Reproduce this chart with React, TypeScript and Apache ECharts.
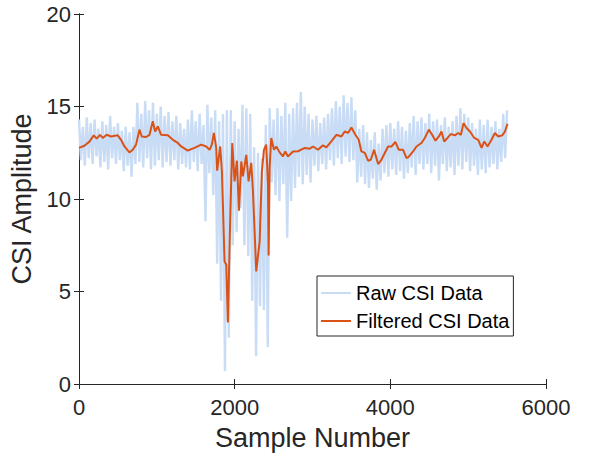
import React, { useEffect, useRef } from "react";
import * as echarts from "echarts";

// Raw CSI data, read as alternating peaks (at 0, 50, 100 ... 5500) and dips (at 25, 75 ... 5475)
const rawPeaks = [
  14.3, 13.9, 14.4, 14.1, 14.3, 13.8, 14.2, 14.0, 14.5, 13.9,
  14.1, 13.7, 13.9, 13.6, 13.9, 15.2, 14.6, 15.3, 14.8, 15.2,
  14.6, 15.0, 14.5, 14.7, 14.2, 14.5, 14.1, 13.8, 14.3, 14.8,
  14.2, 14.6, 14.0, 15.1, 14.4, 14.8, 14.2, 14.6, 14.8, 14.8,
  14.2, 13.8, 15.1, 14.9, 14.6, 12.8, 12.5, 12.2, 14.0, 14.9,
  14.3, 14.9, 14.5, 15.2, 14.6, 14.9, 15.2, 15.8, 15.0, 14.6,
  14.3, 14.5, 14.1, 14.4, 14.6, 14.9, 15.3, 15.0, 15.6, 15.2,
  15.5, 14.8, 13.8, 14.0, 13.6, 13.2, 13.6, 13.0, 13.8, 14.0,
  14.1, 13.8, 14.2, 13.9, 13.7, 14.1, 14.5, 14.2, 14.4, 14.1,
  14.6, 14.2, 14.3, 14.0, 14.4, 13.9, 14.2, 14.5, 14.9, 14.6,
  14.4, 14.1, 13.8, 14.3, 14.0, 14.3, 13.9, 14.2, 13.8, 14.6, 14.8,
];
const rawDips = [
  12.1, 11.8, 12.2, 11.9, 12.3, 11.7, 12.0, 11.6, 12.2, 11.9,
  12.1, 11.5, 11.8, 11.2, 11.9, 12.0, 11.7, 12.2, 11.6, 11.8,
  12.1, 11.7, 12.0, 11.8, 12.1, 11.6, 11.9, 11.7, 11.6, 12.0,
  11.5, 11.9, 8.8, 11.4, 10.2, 6.5, 4.5, 0.7, 2.5, 7.5,
  8.2, 9.5, 7.5, 6.9, 4.5, 1.5, 4.2, 4.0, 2.0, 10.9,
  10.2, 9.9, 10.8, 7.9, 9.9, 10.6, 11.2, 10.8, 11.3, 10.9,
  11.8, 11.5, 11.9, 11.6, 12.1, 11.8, 12.2, 11.9, 12.3, 12.0,
  12.1, 10.9, 11.2, 10.8, 10.6, 11.1, 10.5, 11.0, 11.4, 11.2,
  11.6, 11.3, 11.5, 11.1, 11.4, 11.7, 11.3, 11.9, 11.6, 11.9,
  11.4, 11.8, 11.0, 11.9, 11.5, 11.7, 11.3, 11.8, 11.6, 12.0,
  11.5, 11.8, 11.3, 11.6, 11.4, 11.7, 11.9, 11.6, 12.0, 12.2,
];
const rawStep = 50;
const rawDipOffset = 25;

// Filtered CSI data
const filteredX = [
  0, 69, 134, 189, 228, 270, 305, 356, 412, 498, 540, 584, 648, 691, 733, 777, 806, 862, 906, 948,
  978, 1013, 1055, 1141, 1206, 1270, 1313, 1398, 1484, 1570, 1634, 1678, 1707, 1733, 1763, 1775, 1814, 1836, 1870, 1892,
  1913, 1943, 1969, 1999, 2029, 2055, 2085, 2106, 2149, 2179, 2213, 2235, 2277, 2321, 2350, 2376, 2406, 2428, 2436, 2449,
  2470, 2505, 2535, 2578, 2621, 2650, 2685, 2749, 2814, 2900, 2964, 3007, 3071, 3135, 3178, 3242, 3307, 3371, 3414, 3457,
  3500, 3551, 3594, 3628, 3672, 3714, 3749, 3791, 3843, 3885, 3929, 3971, 4014, 4065, 4109, 4164, 4207, 4229, 4293, 4336,
  4400, 4443, 4495, 4537, 4580, 4624, 4657, 4692, 4734, 4778, 4830, 4872, 4907, 4940, 4979, 5023, 5078, 5129, 5172, 5207,
  5249, 5300, 5344, 5386, 5438, 5473, 5506,
];
const filteredY = [
  12.76, 12.88, 13.1, 13.44, 13.26, 13.47, 13.3, 13.47, 13.38, 13.44, 13.2, 12.84, 12.52, 12.66, 12.94, 13.75, 13.38, 13.35, 13.47, 14.2,
  13.65, 13.92, 13.47, 13.44, 13.2, 13.03, 12.84, 12.62, 12.76, 12.94, 12.84, 12.66, 12.94, 13.57, 12.76, 11.53, 12.84, 11.49, 6.63, 6.45,
  3.33, 8.97, 13.03, 10.95, 12.07, 9.37, 12.03, 11.22, 12.39, 10.95, 11.95, 10.41, 6.09, 7.71, 11.49, 12.66, 12.94, 10.77, 6.95, 11.68,
  13.3, 12.66, 12.84, 12.52, 12.3, 12.57, 12.3, 12.57, 12.58, 12.76, 12.72, 12.84, 12.66, 12.9, 12.79, 13.11, 13.47, 13.38, 13.65, 13.57,
  13.87, 13.47, 13.2, 12.57, 12.49, 12.07, 12.12, 12.66, 11.89, 12.12, 12.49, 12.84, 12.84, 13.08, 12.66, 12.66, 12.22, 12.25, 12.57, 12.84,
  13.03, 13.3, 13.75, 13.47, 13.15, 13.38, 13.65, 13.11, 13.3, 13.51, 13.44, 13.57, 13.47, 14.1, 13.84, 13.65, 13.3, 13.2, 12.76, 13.11,
  12.84, 13.2, 13.57, 13.38, 13.44, 13.65, 14.07,
];

const xTicks = { min: 0, max: 6000, interval: 2000 };
const yTicks = { min: 0, max: 20, interval: 5 };

const seriesNames = ["Raw CSI Data", "Filtered CSI Data"];
const axisTitles = { x: "Sample Number", y: "CSI Amplitude" };

const FONT = "'Liberation Sans', Arial, Helvetica, sans-serif";
const AXIS_COLOR = "#262626";
const RAW_COLOR = "#c9dcf5";
const FILTERED_COLOR = "#D95319";

export default function App() {
  const ref = useRef<HTMLDivElement>(null);

  useEffect(() => {
    if (!ref.current) return;
    const chart = echarts.init(ref.current, undefined, { renderer: "svg" });

    const rawData: number[][] = [];
    for (let i = 0; i < rawPeaks.length; i++) {
      rawData.push([i * rawStep, rawPeaks[i]]);
      if (i < rawDips.length) rawData.push([i * rawStep + rawDipOffset, rawDips[i]]);
    }
    const filteredData = filteredX.map((x, i) => [x, filteredY[i]]);

    const axisLine = { show: true, lineStyle: { color: AXIS_COLOR, width: 1 } };
    const axisTick = { show: true, inside: true, length: 5, lineStyle: { color: AXIS_COLOR, width: 1 } };
    const label = {
      fontSize: 22,
      color: AXIS_COLOR,
      fontFamily: FONT,
      formatter: (v: number) => String(v),
    };

    const option: any = {
      animation: false,
      backgroundColor: "#ffffff",
      grid: { left: 79, right: 46, top: 14, bottom: 74, outerBoundsMode: "none" },
      legend: {
        orient: "vertical",
        left: 317,
        top: 276,
        data: [
          { name: seriesNames[0], icon: "rect", itemStyle: { color: RAW_COLOR } },
          { name: seriesNames[1], icon: "rect", itemStyle: { color: FILTERED_COLOR } },
        ],
        backgroundColor: "#ffffff",
        borderColor: AXIS_COLOR,
        borderWidth: 1,
        borderRadius: 0,
        padding: [7, 4, 5, 4],
        itemWidth: 30,
        itemHeight: 2,
        itemGap: 8,
        textStyle: { fontSize: 20, color: "#000000", fontFamily: FONT, lineHeight: 20 },
      },
      xAxis: [
        {
          type: "value",
          position: "bottom",
          ...xTicks,
          name: axisTitles.x,
          nameLocation: "middle",
          nameGap: 40,
          nameTextStyle: { fontSize: 27, color: AXIS_COLOR, fontFamily: FONT },
          axisLine,
          axisTick,
          axisLabel: { ...label, margin: 12 },
          splitLine: { show: false },
        },
        {
          type: "value",
          position: "top",
          ...xTicks,
          axisLine,
          axisTick,
          axisLabel: { show: false },
          splitLine: { show: false },
        },
      ],
      yAxis: [
        {
          type: "value",
          position: "left",
          ...yTicks,
          name: axisTitles.y,
          nameLocation: "middle",
          nameGap: 38,
          nameTextStyle: { fontSize: 27, color: AXIS_COLOR, fontFamily: FONT },
          axisLine,
          axisTick,
          axisLabel: { ...label, margin: 8 },
          splitLine: { show: false },
        },
        {
          type: "value",
          position: "right",
          ...yTicks,
          axisLine,
          axisTick,
          axisLabel: { show: false },
          splitLine: { show: false },
        },
      ],
      series: [
        {
          name: seriesNames[0],
          type: "line",
          xAxisIndex: 0,
          yAxisIndex: 0,
          data: rawData,
          symbol: "none",
          lineStyle: { color: RAW_COLOR, width: 2.4, join: "bevel" },
          itemStyle: { color: RAW_COLOR },
          z: 1,
        },
        {
          name: seriesNames[1],
          type: "line",
          xAxisIndex: 0,
          yAxisIndex: 0,
          data: filteredData,
          symbol: "none",
          lineStyle: { color: FILTERED_COLOR, width: 2 },
          itemStyle: { color: FILTERED_COLOR },
          z: 2,
        },
      ],
    };
    chart.setOption(option);
    return () => chart.dispose();
  }, []);

  return (
    <div
      ref={ref}
      style={{ position: "fixed", left: 0, top: 0, width: 592, height: 458, background: "#fff" }}
    />
  );
}
